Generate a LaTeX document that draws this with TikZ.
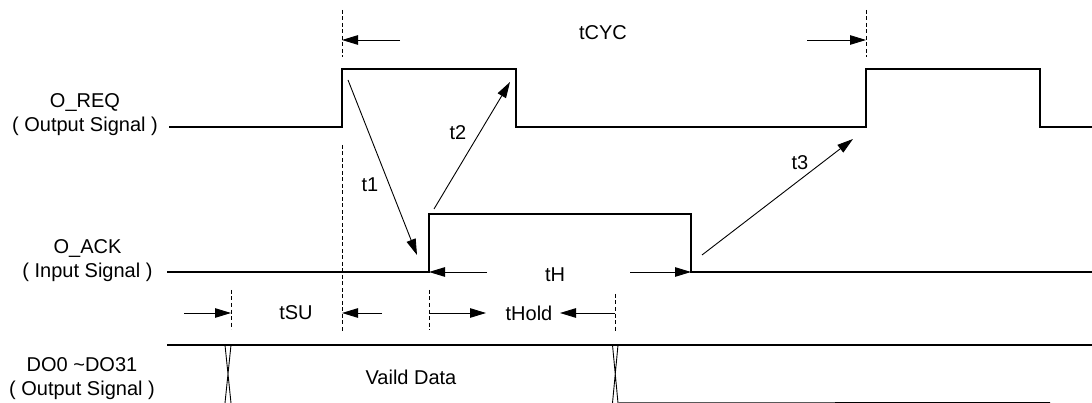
\documentclass[tikz,border=0pt]{standalone}
\usepackage{fontspec}
\setmainfont{Liberation Sans}
\usetikzlibrary{arrows.meta}
\begin{document}
\begin{tikzpicture}[x=1pt,y=-1pt,
 sig/.style={line width=1.3pt, line join=miter},
 dimarrow/.style={line width=0.9pt,-{Triangle[length=16pt,width=9.5pt]}},
 guide/.style={line width=0.8pt, dash pattern=on 4pt off 2.5pt},
 lbl/.style={font=\fontsize{20}{24}\selectfont, inner sep=0pt, align=center},
]
\useasboundingbox[fill=white] (0,0) rectangle (1092,403);
% labels
\node[lbl] (req) at (85,115) {O\_REQ\\( Output Signal )};
\node[lbl] (ack) at (87.5,260.5) {O\_ACK\\( Input Signal )};
\node[lbl] (dout) at (82,379) {DO0 \textasciitilde DO31\\( Output Signal )};
\node[lbl] (tcyc) at (603,33) {tCYC};
\node[lbl] (t1) at (370,185) {t1};
\node[lbl] (t2) at (458,133) {t2};
\node[lbl] (t3) at (800,163) {t3};
\node[lbl] (th) at (555,275) {tH};
\node[lbl] (tsu) at (296,313) {tSU};
\node[lbl] (thold) at (529,313) {tHold};
\node[lbl] (valid) at (411,377) {Vaild Data};
% waveforms
\coordinate (r0) at (169,127); \coordinate (r9) at (1092,127);
\draw[sig] (r0) -- (342,127) -- (342,69) -- (516,69) -- (516,127) -- (866,127) -- (866,69) -- (1040,69) -- (1040,127) -- (r9);
\coordinate (a0) at (167,272); \coordinate (a9) at (1092,272);
\draw[sig] (a0) -- (429,272) -- (429,214) -- (691,214) -- (691,272) -- (a9);
\coordinate (b0) at (167,345); \coordinate (b9) at (1092,345);
\draw[line width=1.1pt] (b0) -- (b9);
\draw[line width=1pt] (618,403) -- (1050,402.5);
\draw[line width=0.9pt] (225,345) -- (231,403) (231,345) -- (225,403);
\draw[line width=0.9pt] (612.5,345) -- (618,403) (618,345) -- (612.5,403);
% guides
\coordinate (g1a) at (342,10); \coordinate (g1b) at (342,57);
\coordinate (g1c) at (342,145); \coordinate (g1d) at (342,332);
\coordinate (g2a) at (866,10); \coordinate (g2b) at (866,57);
\coordinate (g3a) at (231,290); \coordinate (g3b) at (231,329);
\coordinate (g4a) at (429,290); \coordinate (g4b) at (429,330);
\coordinate (g5a) at (615,294); \coordinate (g5b) at (615,332);
\draw[guide] (g1a) -- (g1b) (g1c) -- (g1d) (g2a) -- (g2b) (g3a) -- (g3b) (g4a) -- (g4b) (g5a) -- (g5b);
% arrows
\coordinate (t1s) at (348,80); \coordinate (t1e) at (417,255);
\coordinate (t2s) at (434,209); \coordinate (t2e) at (510,82);
\coordinate (t3s) at (702,255); \coordinate (t3e) at (853,139);
\draw[dimarrow] (t1s) -- (t1e);
\draw[dimarrow] (t2s) -- (t2e);
\draw[dimarrow] (t3s) -- (t3e);
\coordinate (c1) at (400,40); \coordinate (c1e) at (342,40);
\coordinate (c2) at (807,40); \coordinate (c2e) at (866,40);
\draw[dimarrow] (c1) -- (c1e);
\draw[dimarrow] (c2) -- (c2e);
\coordinate (h1) at (487,272); \coordinate (h1e) at (429,272);
\coordinate (h2) at (630,272); \coordinate (h2e) at (691,272);
\draw[dimarrow] (h1) -- (h1e);
\draw[dimarrow] (h2) -- (h2e);
\coordinate (s1) at (184,313); \coordinate (s1e) at (231,313);
\coordinate (s2) at (382,313); \coordinate (s2e) at (342,313);
\draw[dimarrow] (s1) -- (s1e);
\draw[dimarrow] (s2) -- (s2e);
\coordinate (o1) at (429,313); \coordinate (o1e) at (486,313);
\coordinate (o2) at (615,313); \coordinate (o2e) at (560,313);
\draw[dimarrow] (o1) -- (o1e);
\draw[dimarrow] (o2) -- (o2e);
\end{tikzpicture}
\end{document}
